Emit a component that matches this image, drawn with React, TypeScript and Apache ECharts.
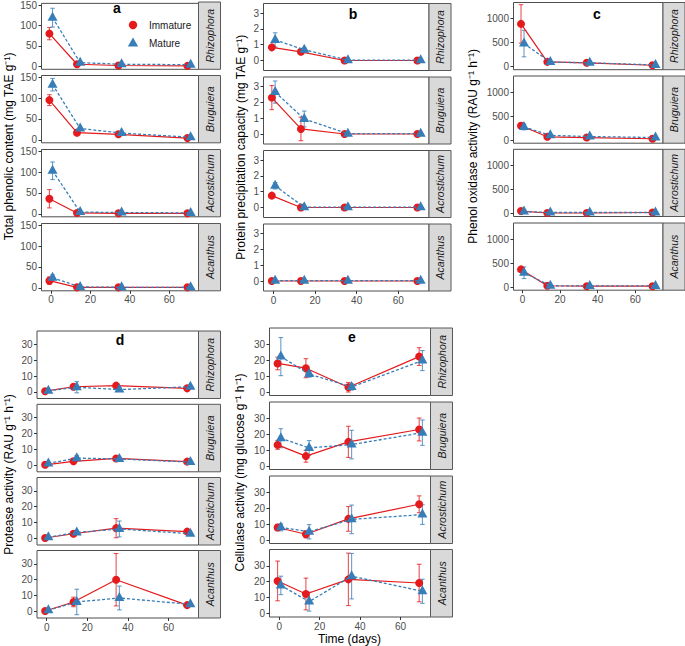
import React, { useEffect, useRef } from "react";
import * as echarts from "echarts";

// ---------- data ----------
const days = [0, 14, 35, 70];
const species = ["Rhizophora", "Bruguiera", "Acrostichum", "Acanthus"];
const groups = ["Immature", "Mature"];
const xTicks = [0, 20, 40, 60];

// a: Total phenolic content (mg TAE g-1) — rows = species, cols = days
const phenolImm = [[80, 5, 2, 1], [95, 17, 13, 4], [36, 2, 1, 1], [17, 1, 1, 1]];
const phenolImmErr = [[15, 1, 1, 0.5], [13, 2, 2, 1], [22, 1, 0.5, 0.5], [9, 0.5, 0.5, 0.5]];
const phenolMat = [[119, 9, 5, 4], [132, 27, 16, 6], [103, 4, 3, 2], [24, 2, 1, 1]];
const phenolMatErr = [[23, 2, 1, 1], [15, 3, 3, 1], [21, 1, 1, 0.5], [7, 0.5, 0.5, 0.5]];
const phenolTicks = [0, 50, 100, 150];

// b: Protein precipitation capacity (mg TAE g-1)
const protImm = [[0.83, 0.55, 0, 0], [2.3, 0.32, 0, 0], [0.75, 0, 0, 0], [0, 0, 0, 0]];
const protImmErr = [[0.1, 0.08, 0, 0], [0.76, 0.74, 0, 0], [0.05, 0, 0, 0], [0, 0, 0, 0]];
const protMat = [[1.3, 0.68, 0.02, 0.02], [2.65, 0.95, 0.02, 0.02], [1.37, 0.02, 0.02, 0.02], [0.02, 0.02, 0.02, 0.02]];
const protMatErr = [[0.45, 0.1, 0, 0], [0.7, 0.5, 0, 0], [0.2, 0, 0, 0], [0, 0, 0, 0]];
const protTicks = [0, 1, 2, 3];

// c: Phenol oxidase activity (RAU g-1 h-1)
const poxImm = [[890, 100, 80, 30], [300, 70, 55, 30], [50, 10, 10, 20], [370, 30, 20, 20]];
const poxImmErr = [[400, 20, 15, 10], [50, 15, 10, 10], [15, 5, 5, 5], [45, 10, 5, 5]];
const poxMat = [[480, 95, 80, 35], [275, 100, 75, 55], [40, 20, 20, 20], [300, 30, 25, 25]];
const poxMatErr = [[275, 20, 15, 10], [60, 20, 15, 15], [15, 5, 5, 5], [120, 10, 5, 5]];
const poxTicks = [0, 500, 1000];

// d: Protease activity (RAU g-1 h-1)
const proteaseImm = [[0.5, 3.3, 4, 2.3], [0.3, 2.5, 4.3, 2.3], [0.3, 3, 6.5, 4.3], [0.3, 6, 20, 4]];
const proteaseImmErr = [[0.3, 1, 1, 0.5], [0.3, 0.8, 1, 0.5], [0.3, 0.8, 6, 0.8], [0.3, 3, 16.5, 0.8]];
const proteaseMat = [[0.8, 3, 1.5, 3.3], [1.2, 4.5, 4, 2], [0.8, 3.8, 6, 3], [0.8, 6, 8.5, 4.5]];
const proteaseMatErr = [[0.5, 3.5, 0.5, 0.5], [0.5, 1.5, 1, 0.5], [0.5, 1, 5, 0.5], [0.5, 8, 7.5, 0.5]];
const proteaseTicks = [0, 10, 20, 30];

// e: Cellulase activity (mg glucose g-1 h-1)
const cellImm = [[18, 15, 3, 22.3], [13.3, 6.2, 15.2, 23], [7.9, 3.6, 13.3, 22.5], [20.5, 12.3, 21.5, 19.2]];
const cellImmErr = [[4, 6, 3, 5.6], [2.8, 3.8, 9.8, 7.2], [2, 2.2, 7.8, 5.3], [12.5, 10, 16.5, 11.8]];
const cellMat = [[22.3, 11.3, 3.2, 19.8], [17.5, 11.4, 13.5, 21], [8, 5.2, 13, 16], [17.7, 7.5, 23.5, 14]];
const cellMatErr = [[12, 2, 2, 6.3], [6, 4.6, 9, 8], [2.2, 4.5, 9, 6.2], [5.8, 6, 14.3, 7.6]];
const cellTicks = [0, 10, 20, 30];

// ---------- styling / layout ----------
const RED = "#E41A1C";
const BLUE = "#377EB8";
const FONT = "'Liberation Sans', Arial, Helvetica, sans-serif";
const X_MIN = -4.8;
const X_MAX = 74.8;
const DODGE = 0.8;
const STRIP_W = 22;
const TICK_FONT = 10;

const panels = [
  {
    letter: "a", title: "Total phenolic content (mg TAE g\u207B\u00B9)",
    imm: phenolImm, immErr: phenolImmErr, mat: phenolMat, matErr: phenolMatErr, ticks: phenolTicks,
    yMin: -7.3, yMax: 154, left: 41.5, width: 157, tops: [2, 75.5, 149.5, 223.5], height: 67.3,
    titleX: 9, letterX: 117, letterY: 8, xTitle: false,
  },
  {
    letter: "b", title: "Protein precipitation capacity (mg TAE g\u207B\u00B9)",
    imm: protImm, immErr: protImmErr, mat: protMat, matErr: protMatErr, ticks: protTicks,
    yMin: -0.63, yMax: 3.6, left: 263.5, width: 165.5, tops: [3.5, 77, 150.5, 224], height: 67,
    titleX: 241, letterX: 353, letterY: 14, xTitle: false,
  },
  {
    letter: "c", title: "Phenol oxidase activity (RAU g\u207B\u00B9 h\u207B\u00B9)",
    imm: poxImm, immErr: poxImmErr, mat: poxMat, matErr: poxMatErr, ticks: poxTicks,
    yMin: -63, yMax: 1335, left: 513.5, width: 149.5, tops: [2.5, 76, 149.3, 223], height: 67.2,
    titleX: 473, letterX: 597, letterY: 14, xTitle: false,
  },
  {
    letter: "d", title: "Protease activity (RAU g\u207B\u00B9 h\u207B\u00B9)",
    imm: proteaseImm, immErr: proteaseImmErr, mat: proteaseMat, matErr: proteaseMatErr, ticks: proteaseTicks,
    yMin: -4.1, yMax: 38.4, left: 37, width: 161.5, tops: [331, 404.3, 477.5, 550.5], height: 67.5,
    titleX: 8.5, letterX: 120, letterY: 340, xTitle: false,
  },
  {
    letter: "e", title: "Cellulase activity (mg glucose g\u207B\u00B9 h\u207B\u00B9)",
    imm: cellImm, immErr: cellImmErr, mat: cellMat, matErr: cellMatErr, ticks: cellTicks,
    yMin: -2.2, yMax: 40.3, left: 269.5, width: 161, tops: [328, 402, 476, 549.5], height: 67.5,
    titleX: 240, letterX: 352, letterY: 337, xTitle: true,
  },
];

function errSeries(gi: number, pts: number[][], color: string) {
  return {
    type: "custom",
    xAxisIndex: gi,
    yAxisIndex: gi,
    data: pts,
    encode: { x: 0, y: 1 },
    silent: true,
    z: 2,
    renderItem: (params: any, api: any) => {
      const x = api.value(0);
      const m = api.value(1);
      const e = api.value(2);
      if (!e) return { type: "group", children: [] };
      const a = api.coord([x, m + e]);
      const b = api.coord([x, m - e]);
      const cw = 2.3;
      const st = { stroke: color, lineWidth: 1.1, opacity: 0.75 };
      return {
        type: "group",
        children: [
          { type: "line", shape: { x1: a[0], y1: a[1], x2: b[0], y2: b[1] }, style: st },
          { type: "line", shape: { x1: a[0] - cw, y1: a[1], x2: a[0] + cw, y2: a[1] }, style: st },
          { type: "line", shape: { x1: b[0] - cw, y1: b[1], x2: b[0] + cw, y2: b[1] }, style: st },
        ],
      };
    },
  };
}

function txt(x: number, y: number, text: string, opts: any = {}) {
  return {
    type: "text",
    x,
    y,
    rotation: opts.rotation || 0,
    silent: true,
    z: 10,
    style: {
      text,
      fill: opts.fill || "#1a1a1a",
      fontSize: opts.fontSize || 12,
      fontFamily: FONT,
      fontStyle: opts.fontStyle || "normal",
      fontWeight: opts.fontWeight || "normal",
      align: opts.align || "center",
      verticalAlign: "middle",
      textAlign: opts.align || "center",
      textVerticalAlign: "middle",
    },
  };
}

const plainNum = (v: number) => String(v);

function buildOption() {
  const grid: any[] = [];
  const xAxis: any[] = [];
  const yAxis: any[] = [];
  const series: any[] = [];
  const graphic: any[] = [];

  panels.forEach((p) => {
    species.forEach((sp, si) => {
      const gi = grid.length;
      const top = p.tops[si];
      const bottomRow = si === species.length - 1;
      grid.push({
        left: p.left, top, width: p.width, height: p.height,
        show: true, borderColor: "#4d4d4d", borderWidth: 1,
      });
      xAxis.push({
        type: "value", gridIndex: gi, min: X_MIN, max: X_MAX,
        axisLine: { show: false, onZero: false },
        splitLine: { show: false },
        axisTick: { show: bottomRow, length: 3, customValues: xTicks, lineStyle: { color: "#333" } },
        axisLabel: {
          show: bottomRow, customValues: xTicks, fontSize: TICK_FONT, color: "#4d4d4d",
          margin: 4, fontFamily: FONT, formatter: plainNum,
        },
      });
      yAxis.push({
        type: "value", gridIndex: gi, min: p.yMin, max: p.yMax,
        axisLine: { show: false, onZero: false },
        splitLine: { show: false },
        axisTick: { show: true, length: 3, customValues: p.ticks, lineStyle: { color: "#333" } },
        axisLabel: {
          customValues: p.ticks, fontSize: TICK_FONT, color: "#4d4d4d", margin: 4.5,
          fontFamily: FONT, formatter: plainNum,
        },
      });
      const immPts = days.map((d, k) => [d - DODGE, p.imm[si][k], p.immErr[si][k]]);
      const matPts = days.map((d, k) => [d + DODGE, p.mat[si][k], p.matErr[si][k]]);
      series.push(errSeries(gi, immPts, RED));
      series.push(errSeries(gi, matPts, BLUE));
      series.push({
        type: "line", name: groups[0], xAxisIndex: gi, yAxisIndex: gi,
        data: immPts.map((q) => [q[0], q[1]]),
        symbol: "circle", symbolSize: 8, showSymbol: true, silent: true, z: 3,
        itemStyle: { color: RED, opacity: 1 },
        lineStyle: { color: RED, width: 1.2 },
      });
      series.push({
        type: "line", name: groups[1], xAxisIndex: gi, yAxisIndex: gi,
        data: matPts.map((q) => [q[0], q[1]]),
        symbol: "triangle", symbolSize: [10, 9], symbolOffset: [0, -1.5], showSymbol: true, silent: true, z: 4,
        itemStyle: { color: BLUE, opacity: 1 },
        lineStyle: { color: BLUE, width: 1.3, type: [3, 2] },
      });
      // facet strip
      graphic.push({
        type: "rect", silent: true, z: 5,
        shape: { x: p.left + p.width, y: top, width: STRIP_W, height: p.height },
        style: { fill: "#D9D9D9", stroke: "#595959", lineWidth: 1 },
      });
      graphic.push(txt(p.left + p.width + STRIP_W / 2, top + p.height / 2, sp, {
        rotation: Math.PI / 2, fontSize: 10.5, fontStyle: "italic",
      }));
    });
    const yc = (p.tops[0] + p.tops[3] + p.height) / 2;
    graphic.push(txt(p.titleX, yc, p.title, { rotation: Math.PI / 2, fontSize: 12, fill: "#000" }));
    graphic.push(txt(p.letterX, p.letterY, p.letter, { fontSize: 14, fontWeight: "bold", fill: "#000" }));
    if (p.xTitle) {
      graphic.push(txt(p.left + p.width / 2 - 0.5, 639, "Time (days)", { fontSize: 12, fill: "#000" }));
    }
  });

  // legend (inside panel a, top row)
  graphic.push({
    type: "circle", silent: true, z: 10,
    shape: { cx: 133, cy: 25, r: 4.2 },
    style: { fill: RED },
  });
  graphic.push({
    type: "polygon", silent: true, z: 10,
    shape: { points: [[133, 37.5], [127.8, 46.5], [138.2, 46.5]] },
    style: { fill: BLUE },
  });
  graphic.push(txt(149, 25, groups[0], { fontSize: 10, align: "left" }));
  graphic.push(txt(149, 43, groups[1], { fontSize: 10, align: "left" }));

  return {
    animation: false,
    backgroundColor: "#ffffff",
    textStyle: { fontFamily: FONT },
    grid,
    xAxis,
    yAxis,
    series,
    graphic,
  };
}

export default function App() {
  const ref = useRef<HTMLDivElement>(null);
  useEffect(() => {
    if (!ref.current) return;
    const chart = echarts.init(ref.current, undefined, { renderer: "svg" });
    chart.setOption(buildOption() as any);
    return () => {
      chart.dispose();
    };
  }, []);
  return (
    <div
      ref={ref}
      style={{ position: "fixed", left: 0, top: 0, width: 685, height: 646, background: "#fff" }}
    />
  );
}
